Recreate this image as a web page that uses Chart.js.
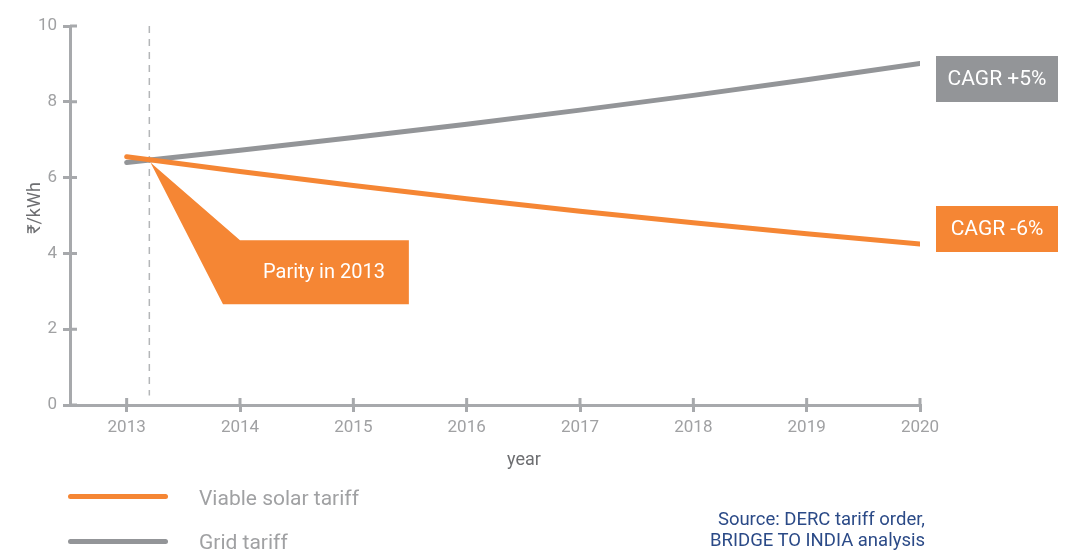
<!DOCTYPE html>
<html>
<head>
<meta charset="utf-8">
<script src="https://cdn.jsdelivr.net/npm/chart.js@4.4.1/dist/chart.umd.min.js"></script>
<style>
  html, body { margin: 0; padding: 0; background: #fff; }
  #wrap { position: relative; width: 1066px; height: 554px; font-family: Roboto, "Noto Sans", sans-serif; }
  #chart { position: absolute; left: 0; top: 0; }
  .swatch { position: absolute; left: 68px; width: 100px; height: 5px; border-radius: 3px; }
  .legend-label { position: absolute; left: 199px; font-size: 21px; color: #a0a1a3; line-height: 24px; }
  #source { position: absolute; right: 141px; top: 509px; text-align: right; font-size: 18.5px; line-height: 21px; color: #2b4a87; }
</style>
</head>
<body>
<div id="wrap">
  <canvas id="chart" width="1066" height="554"></canvas>
  <div class="swatch" style="top:494px;background:#f58634"></div>
  <div class="legend-label" style="top:486px">Viable solar tariff</div>
  <div class="swatch" style="top:539px;background:#939598"></div>
  <div class="legend-label" style="top:530px">Grid tariff</div>
  <div id="source">Source: DERC tariff order,<br>BRIDGE TO INDIA analysis</div>
</div>
<script>
const years = [2013, 2014, 2015, 2016, 2017, 2018, 2019, 2020];
const solarTariff = [6.55, 6.16, 5.79, 5.44, 5.11, 4.81, 4.52, 4.25];
const gridTariff = [6.40, 6.72, 7.06, 7.41, 7.78, 8.17, 8.58, 9.01];
const yTicks = [0, 2, 4, 6, 8, 10];

const ORANGE = "#f58634";
const GREY = "#939598";
const AXIS = "#a7a9ac";
const FONT = "Roboto, 'Noto Sans', sans-serif";

// parity marker, callout, inner tick marks and CAGR tags
const decor = {
  id: "decor",
  beforeDatasetsDraw(chart) {
    const { ctx, chartArea, scales: { x, y } } = chart;
    const px = x.getPixelForValue(2013.2);
    ctx.save();
    ctx.strokeStyle = "#b4b6b8";
    ctx.lineWidth = 1.5;
    ctx.setLineDash([7, 6]);
    ctx.beginPath();
    ctx.moveTo(px, y.getPixelForValue(10));
    ctx.lineTo(px, y.getPixelForValue(0.25));
    ctx.stroke();
    ctx.setLineDash([]);
    // ticks continue a little inside the plot
    ctx.strokeStyle = AXIS;
    ctx.lineWidth = 3;
    ctx.beginPath();
    years.forEach(v => {
      const p = x.getPixelForValue(v);
      ctx.moveTo(p, chartArea.bottom);
      ctx.lineTo(p, chartArea.bottom - 7);
    });
    yTicks.forEach(v => {
      const p = y.getPixelForValue(v);
      ctx.moveTo(chartArea.left, p);
      ctx.lineTo(chartArea.left + 7, p);
    });
    ctx.stroke();
    ctx.restore();
  },
  afterDatasetsDraw(chart) {
    const { ctx, chartArea, scales: { x, y } } = chart;
    ctx.save();
    // callout
    const tip = [x.getPixelForValue(2013.21), y.getPixelForValue(6.4)];
    const l = x.getPixelForValue(2014.0), r = x.getPixelForValue(2015.49);
    const t = y.getPixelForValue(4.35), b = y.getPixelForValue(2.66);
    const bl = x.getPixelForValue(2013.85);
    ctx.fillStyle = ORANGE;
    ctx.beginPath();
    ctx.moveTo(tip[0], tip[1]);
    ctx.lineTo(l, t);
    ctx.lineTo(r, t);
    ctx.lineTo(r, b);
    ctx.lineTo(bl, b);
    ctx.closePath();
    ctx.fill();
    ctx.fillStyle = "#fff";
    ctx.font = "20px " + FONT;
    ctx.textAlign = "center";
    ctx.textBaseline = "middle";
    ctx.fillText("Parity in 2013", 324, (t + b) / 2 + 1);

    // CAGR tags
    const tags = [
      { text: "CAGR +5%", color: GREY, top: 56 },
      { text: "CAGR -6%", color: ORANGE, top: 206 }
    ];
    ctx.font = "21px " + FONT;
    tags.forEach(tg => {
      const bx = chartArea.right + 16;
      ctx.fillStyle = tg.color;
      ctx.fillRect(bx, tg.top, 122, 46);
      ctx.fillStyle = "#fff";
      ctx.fillText(tg.text, bx + 61, tg.top + 24);
    });

    // axis titles
    ctx.fillStyle = "#6d6e71";
    ctx.font = "18px " + FONT;
    ctx.fillText("year", 524, 460);
    ctx.translate(35, 208);
    ctx.rotate(-Math.PI / 2);
    ctx.fillText("₹/kWh", 0, 0);
    ctx.restore();
  }
};

const axisStyle = {
  grid: { drawOnChartArea: false, drawTicks: true, tickLength: 7, color: AXIS, lineWidth: 3 },
  border: { color: AXIS, width: 3 }
};

new Chart(document.getElementById("chart"), {
  type: "line",
  data: {
    datasets: [
      {
        label: "Viable solar tariff",
        data: years.map((yr, i) => ({ x: yr, y: solarTariff[i] })),
        borderColor: ORANGE,
        borderWidth: 5,
        borderCapStyle: "round",
        pointRadius: 0
      },
      {
        label: "Grid tariff",
        data: years.map((yr, i) => ({ x: yr, y: gridTariff[i] })),
        borderColor: GREY,
        borderWidth: 5,
        borderCapStyle: "round",
        pointRadius: 0
      }
    ]
  },
  options: {
    responsive: false,
    animation: false,
    layout: { padding: { top: 26, right: 146, left: 0, bottom: 0 } },
    plugins: { legend: { display: false }, tooltip: { enabled: false } },
    scales: {
      x: {
        type: "linear",
        min: 2012.5,
        max: 2020,
        afterBuildTicks: s => { s.ticks = years.map(v => ({ value: v })); },
        afterFit: s => { s.height = 149; },
        ticks: { color: "#a0a1a3", font: { family: FONT, size: 17 }, padding: 6, callback: v => String(v) },
        ...axisStyle
      },
      y: {
        min: 0,
        max: 10,
        afterBuildTicks: s => { s.ticks = yTicks.map(v => ({ value: v })); },
        afterFit: s => { s.width = 70; },
        ticks: { color: "#a0a1a3", font: { family: FONT, size: 17 }, padding: 6 },
        ...axisStyle
      }
    }
  },
  plugins: [decor]
});
</script>
</body>
</html>
